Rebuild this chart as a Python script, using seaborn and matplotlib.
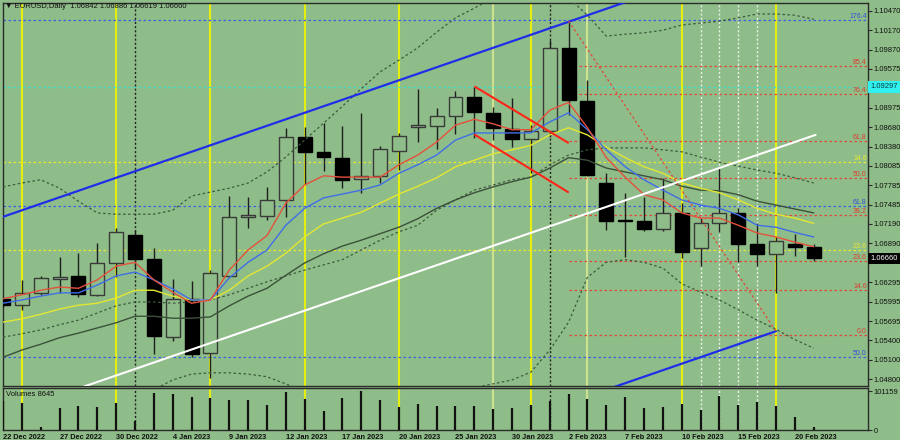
import matplotlib
matplotlib.use('Agg')
import numpy as np
import pandas as pd
import matplotlib.pyplot as plt
import matplotlib.transforms as mtransforms
from matplotlib.patches import Rectangle
import seaborn as sns

# ---- data (EURUSD daily, 22 Dec 2022 .. 21 Feb 2023) ----
dates = pd.bdate_range('2022-12-22', '2023-02-21')

opens = [1.06036, 1.05943, 1.06128, 1.06343, 1.06389, 1.06097, 1.06589, 1.07020, 1.06651, 1.05451,
         1.06036, 1.05205, 1.06389, 1.07297, 1.07312, 1.07558, 1.08527, 1.08297, 1.08204, 1.07881,
         1.07928, 1.08312, 1.08681, 1.08697, 1.08851, 1.09143, 1.08897, 1.08651, 1.08497, 1.08620,
         1.09897, 1.09081, 1.07820, 1.07258, 1.07235, 1.07112, 1.07358, 1.06820, 1.07205, 1.07358,
         1.06882, 1.06728, 1.06882, 1.06842]
highs = [1.06066, 1.06328, 1.06389, 1.06682, 1.06743, 1.06897, 1.07128, 1.07097, 1.06820, 1.06343,
         1.06312, 1.06482, 1.07620, 1.07605, 1.07758, 1.08666, 1.08681, 1.08743, 1.08697, 1.08897,
         1.08389, 1.08589, 1.09266, 1.08974, 1.09235, 1.09297, 1.08989, 1.09127, 1.08712, 1.10020,
         1.10312, 1.09404, 1.07974, 1.07666, 1.07605, 1.07897, 1.07512, 1.07282, 1.08051, 1.07435,
         1.07205, 1.06989, 1.07035, 1.06886]
lows = [1.05912, 1.05866, 1.06097, 1.06128, 1.06066, 1.06082, 1.06374, 1.06512, 1.05189, 1.05389,
        1.05143, 1.04820, 1.06374, 1.07128, 1.07251, 1.07297, 1.07805, 1.08005, 1.07743, 1.07666,
        1.07820, 1.08020, 1.08451, 1.08343, 1.08574, 1.08512, 1.08481, 1.08374, 1.07974, 1.08527,
        1.08866, 1.07928, 1.07097, 1.06682, 1.07082, 1.07082, 1.06666, 1.06543, 1.07066, 1.06605,
        1.06543, 1.06128, 1.06697, 1.06619]
closes = [1.05943, 1.06128, 1.06358, 1.06374, 1.06112, 1.06589, 1.07066, 1.06651, 1.05466, 1.06036,
          1.05189, 1.06435, 1.07297, 1.07328, 1.07558, 1.08527, 1.08297, 1.08220, 1.07866, 1.07928,
          1.08343, 1.08543, 1.08712, 1.08851, 1.09143, 1.08912, 1.08666, 1.08497, 1.08620, 1.09897,
          1.09097, 1.07943, 1.07235, 1.07243, 1.07112, 1.07358, 1.06758, 1.07205, 1.07358, 1.06882,
          1.06728, 1.06928, 1.06835, 1.06660]
volumes = [76800, 71500, 8600, 58400, 63700, 61000, 71500, 24400, 96200, 94300,
           85700, 83800, 78600, 78600, 65500, 98800, 81200, 50600, 83800, 101159,
           78600, 61000, 68100, 62900, 62900, 63700, 55000, 57600, 64700, 75200,
           93500, 80400, 65500, 85700, 58400, 61000, 68100, 52400, 89900, 65500,
           72600, 62900, 34800, 8645]

# indicator lines (values per candle)
ma_red = [1.0604, 1.0610, 1.0617, 1.0622, 1.0620, 1.0633, 1.0654, 1.0660, 1.0633, 1.0614,
          1.0597, 1.0602, 1.0648, 1.0679, 1.0701, 1.0751, 1.0779, 1.0793, 1.0791, 1.0791,
          1.0791, 1.0810, 1.0825, 1.0845, 1.0871, 1.0880, 1.0873, 1.0864, 1.0864, 1.0894,
          1.0906, 1.0867, 1.0821, 1.0791, 1.0764, 1.0756, 1.0736, 1.0728, 1.0728, 1.0717,
          1.0705, 1.0699, 1.0691, 1.0684]
ma_blue = [1.0597, 1.0602, 1.0608, 1.0613, 1.0613, 1.0625, 1.0639, 1.0645, 1.0633, 1.0619,
           1.0602, 1.0602, 1.0636, 1.0660, 1.0679, 1.0717, 1.0743, 1.0759, 1.0765, 1.0771,
           1.0779, 1.0797, 1.0810, 1.0825, 1.0848, 1.0859, 1.0859, 1.0859, 1.0859, 1.0876,
           1.0890, 1.0864, 1.0833, 1.0807, 1.0787, 1.0771, 1.0756, 1.0748, 1.0743, 1.0733,
           1.0717, 1.0714, 1.0706, 1.0699]
ma_yellow = [1.0568, 1.0573, 1.0580, 1.0588, 1.0594, 1.0597, 1.0605, 1.0617, 1.0617, 1.0608,
             1.0602, 1.0602, 1.0617, 1.0639, 1.0654, 1.0674, 1.0699, 1.0719, 1.0728, 1.0737,
             1.0751, 1.0765, 1.0777, 1.0790, 1.0807, 1.0817, 1.0827, 1.0833, 1.0840, 1.0856,
             1.0867, 1.0856, 1.0837, 1.0821, 1.0807, 1.0797, 1.0782, 1.0774, 1.0767, 1.0756,
             1.0743, 1.0734, 1.0728, 1.0720]
ma_dark = [1.0514, 1.0525, 1.0534, 1.0544, 1.0551, 1.0559, 1.0567, 1.0577, 1.0577, 1.0574,
           1.0574, 1.0576, 1.0593, 1.0608, 1.0620, 1.0640, 1.0659, 1.0673, 1.0685, 1.0694,
           1.0704, 1.0714, 1.0727, 1.0743, 1.0756, 1.0767, 1.0776, 1.0784, 1.0791, 1.0805,
           1.0821, 1.0817, 1.0805, 1.0799, 1.0793, 1.0787, 1.0777, 1.0771, 1.0770, 1.0764,
           1.0754, 1.0748, 1.0742, 1.0736]
band_mid = [1.0545, 1.0550, 1.0556, 1.0564, 1.0571, 1.0582, 1.0593, 1.0599, 1.0599, 1.0597,
            1.0599, 1.0602, 1.0610, 1.0620, 1.0630, 1.0639, 1.0648, 1.0656, 1.0664, 1.0679,
            1.0694, 1.0707, 1.0717, 1.0740, 1.0756, 1.0771, 1.0779, 1.0787, 1.0791, 1.0810,
            1.0825, 1.0833, 1.0836, 1.0836, 1.0836, 1.0833, 1.0830, 1.0822, 1.0814, 1.0808,
            1.0802, 1.0797, 1.0790, 1.0782]
band_upper = [1.0776, 1.0782, 1.0787, 1.0774, 1.0754, 1.0736, 1.0734, 1.0734, 1.0734, 1.0740,
              1.0762, 1.0768, 1.0774, 1.0782, 1.0799, 1.0822, 1.0848, 1.0874, 1.0900, 1.0927,
              1.0953, 1.0971, 1.0990, 1.1014, 1.1036, 1.1051, 1.1067, 1.1076, 1.1079, 1.1076,
              1.1067, 1.1040, 1.1008, 1.1011, 1.1013, 1.1017, 1.1025, 1.1028, 1.1031, 1.1036,
              1.1042, 1.1042, 1.1040, 1.1034]
band_lower = [1.0461, 1.0461, 1.0459, 1.0456, 1.0453, 1.0451, 1.0454, 1.0456, 1.0464, 1.0479,
              1.0488, 1.0490, 1.0490, 1.0488, 1.0484, 1.0473, 1.0461, 1.0451, 1.0448, 1.0445,
              1.0444, 1.0445, 1.0448, 1.0451, 1.0457, 1.0467, 1.0473, 1.0479, 1.0491, 1.0525,
              1.0568, 1.0637, 1.0660, 1.0664, 1.0660, 1.0651, 1.0627, 1.0614, 1.0602, 1.0587,
              1.0571, 1.0557, 1.0541, 1.0528]

# drawn objects: (candle index, price) end points
channel_top = [(0, 1.0730), (34, 1.1070)]
channel_mid_white = [(0, 1.0426), (43.1, 1.0856)]
channel_bottom = [(32, 1.0464), (41, 1.0554)]
red_flag_upper = [(25.04, 1.0930), (29.97, 1.0844)]
red_flag_lower = [(25.04, 1.0856), (29.97, 1.0768)]
fibo_diagonal = [(30, 1.10312), (41, 1.0554)]

# fibonacci / level lines
red_fib_labels = ['0.0', '14.6', '23.6', '38.2', '50.0', '61.8', '76.4', '85.4']
red_fib_prices = [1.05482, 1.06174, 1.06620, 1.07327, 1.07897, 1.08466, 1.09189, 1.09620]
yellow_fib_labels = ['14.6', '23.6']
yellow_fib_prices = [1.08143, 1.06789]
blue_fib_labels = ['176.4', '61.8', '50.0']
blue_fib_prices = [1.10327, 1.07466, 1.05143]
cyan_level = 1.09297

# vertical marker lines (candle index)
vl_yellow = [1, 6, 11, 16, 21, 28, 36, 41]
vl_pale = [26, 31]
vl_white = [37, 38, 39, 40]
vl_black = [7, 29]

price_ticks = [1.10470, 1.10170, 1.09870, 1.09575, 1.09275, 1.08975, 1.08680, 1.08380, 1.08085,
               1.07785, 1.07485, 1.07190, 1.06890, 1.06590, 1.06295, 1.05995, 1.05695, 1.05400,
               1.05100, 1.04800]
hidden_ticks = [1.09275, 1.06590]   # covered by the price tags
date_tick_idx = list(range(0, 44, 3))

BG = '#8fbd89'
FRAME = '#2b2b2b'

sns.set_style('white')
plt.rcParams['font.family'] = ['Liberation Sans', 'DejaVu Sans']

fig = plt.figure(figsize=(9, 4.4), dpi=100, facecolor=BG)
ax = fig.add_axes([3 / 900, 1 - 386 / 440, 865 / 900, 383 / 440], facecolor=BG)
axv = fig.add_axes([3 / 900, 1 - 430 / 440, 865 / 900, 42 / 440], facecolor=BG, sharex=ax)

idx = np.arange(len(opens))

# vertical lines
for a in (ax, axv):
    for v in vl_yellow:
        a.axvline(v, color='#e6ee10', lw=1.5, zorder=1)
    for v in vl_pale:
        a.axvline(v, color='#cfe08e', lw=1.5, zorder=1)
    for v in vl_white:
        a.axvline(v, color='#e8f0e8', lw=1, ls=(0, (1.5, 1.5)), zorder=1)
    for v in vl_black:
        a.axvline(v, color='#222222', lw=1, ls=(0, (1.5, 1.5)), zorder=1)

# horizontal level lines
trans_lbl = mtransforms.blended_transform_factory(ax.transAxes, ax.transData)
for lab, p in zip(blue_fib_labels, blue_fib_prices):
    ax.axhline(p, color='#3a5fe0', lw=0.9, ls=(0, (2, 2)), zorder=2)
    ax.text(0.9985, p, lab, transform=trans_lbl, ha='right', va='bottom',
            fontsize=5, color='#2f4fd8')
for lab, p in zip(yellow_fib_labels, yellow_fib_prices):
    ax.axhline(p, color='#e8e830', lw=0.9, ls=(0, (2, 2)), zorder=2)
    ax.text(0.9985, p, lab, transform=trans_lbl, ha='right', va='bottom',
            fontsize=5, color='#e8e830')
for lab, p in zip(red_fib_labels, red_fib_prices):
    ax.plot([30, 46], [p, p], color='#e0483c', lw=0.9, ls=(0, (2, 2)), zorder=2)
    ax.text(0.9985, p, lab, transform=trans_lbl, ha='right', va='bottom',
            fontsize=5, color='#e03a30')
ax.axhline(cyan_level, color='#40e0c8', lw=0.9, ls=(0, (2, 2)), zorder=2)

# candles
for i in idx:
    o, h, l, c = opens[i], highs[i], lows[i], closes[i]
    ax.vlines(i, l, h, color='#1e1e1e', lw=1, zorder=3)
    lo, hi = min(o, c), max(o, c)
    bear = c < o
    if hi - lo < 0.00006:
        ax.hlines(o, i - 0.37, i + 0.37, color='#1e1e1e', lw=1.5, zorder=4)
    else:
        ax.add_patch(Rectangle((i - 0.37, lo), 0.74, hi - lo,
                               facecolor='black' if bear else BG,
                               edgecolor='black' if bear else '#3a3a3a',
                               lw=1, zorder=4))

# indicators
line_df = pd.DataFrame({'idx': idx, 'red': ma_red, 'blue': ma_blue, 'yellow': ma_yellow,
                        'dark': ma_dark, 'mid': band_mid, 'upper': band_upper,
                        'lower': band_lower})
for col, color, lw, ls in [('upper', '#3d5a3d', 0.9, (0, (2, 2))),
                           ('lower', '#3d5a3d', 0.9, (0, (2, 2))),
                           ('mid', '#3d5a3d', 0.9, (0, (2, 2))),
                           ('dark', '#3b513b', 1.0, '-'),
                           ('yellow', '#e3e632', 1.0, '-'),
                           ('blue', '#3f6ee8', 1.0, '-'),
                           ('red', '#e5503c', 1.0, '-')]:
    sns.lineplot(data=line_df, x='idx', y=col, ax=ax, color=color, lw=lw,
                 linestyle=ls, zorder=5, legend=False)

# drawn trend objects
def seg(pts, color, lw, ls='-'):
    (x0, y0), (x1, y1) = pts
    ax.plot([x0, x1], [y0, y1], color=color, lw=lw, ls=ls, zorder=6)

seg(channel_top, '#1f2ee8', 1.6)
seg(channel_mid_white, '#ffffff', 1.5)
seg(channel_bottom, '#1f2ee8', 1.6)
seg(red_flag_upper, '#ff2418', 1.5)
seg(red_flag_lower, '#ff2418', 1.5)
seg(fibo_diagonal, '#e0483c', 0.9, (0, (2, 2)))

# volume panel
axv.vlines(idx, 0, volumes, color='#111111', lw=1.6, zorder=3)
axv.set_ylim(0, 110000)
axv.text(0.003, 0.93, 'Volumes 8645', transform=axv.transAxes, fontsize=5.5, va='top',
         color='#111111')

# axes cosmetics
ax.set_xlim(0.016, 45.88)
ax.set_ylim(1.04697, 1.10589)
for a in (ax, axv):
    for s in a.spines.values():
        s.set_color(FRAME)
        s.set_linewidth(1)
    a.set_xlabel('')
    a.set_ylabel('')
    a.yaxis.tick_right()
    a.tick_params(axis='y', direction='out', length=3, width=0.8, colors=FRAME,
                  labelsize=5.5, pad=1, labelcolor='#111111')

ax.set_yticks(price_ticks)
ax.set_yticklabels(['' if p in hidden_ticks else f'{p:.5f}' for p in price_ticks])
ax.tick_params(axis='x', bottom=False, labelbottom=False)

axv.set_yticks([0, 101159])
axv.set_yticklabels(['0', '101159'])
axv.set_xticks(date_tick_idx)
axv.set_xticklabels([dates[i].strftime('%-d %b %Y') for i in date_tick_idx],
                    fontsize=5.3, fontweight='bold', color='#111111')
axv.tick_params(axis='x', direction='out', length=3, width=0.8, colors=FRAME, pad=0,
                labelcolor='#111111')
for lbl in axv.get_xticklabels():
    lbl.set_ha('left')

# price tags on the axis
tag_trans = mtransforms.blended_transform_factory(ax.transAxes, ax.transData)
ax.text(1.003, cyan_level, '1.09297', transform=tag_trans, ha='left', va='center',
        fontsize=5.5, color='#0a3a3a', zorder=10,
        bbox=dict(boxstyle='square,pad=0.3', facecolor='#30f0f0', edgecolor='none'))
ax.text(1.003, closes[-1], '1.06660', transform=tag_trans, ha='left', va='center',
        fontsize=5.5, color='white', zorder=10,
        bbox=dict(boxstyle='square,pad=0.3', facecolor='black', edgecolor='none'))

# header
fig.text(5 / 900, 1 - 6 / 440, '\u25bc EURUSD,Daily  1.06842 1.06886 1.06619 1.06660',
         fontsize=5.5, va='center', ha='left', color='#111111')

fig.savefig('out.png', dpi=100, facecolor=BG)
